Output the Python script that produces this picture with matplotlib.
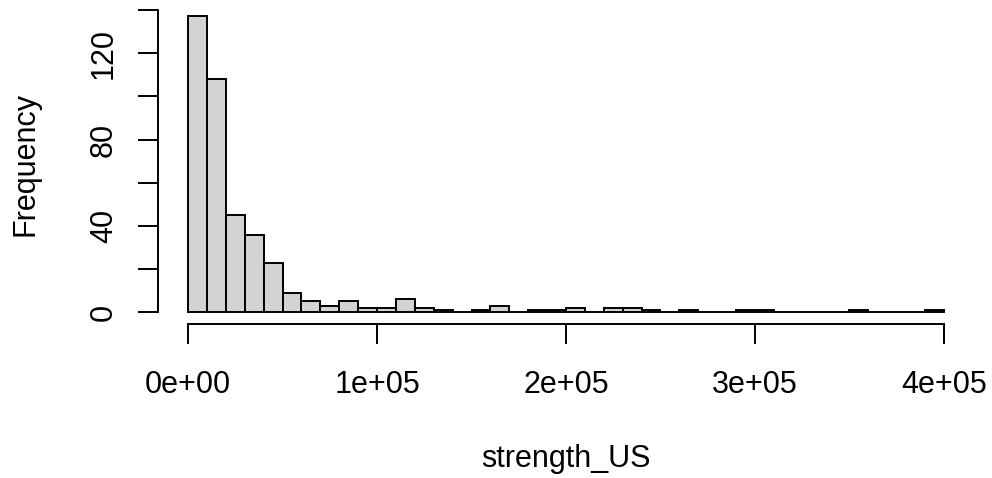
import matplotlib
matplotlib.use("Agg")
import matplotlib.pyplot as plt
import numpy as np

# Histogram of strength_US: bin width 10000 from 0 to 400000
bin_edges = np.arange(0, 400001, 10000)
counts = [137, 108, 45, 36, 23, 9, 5, 3, 5, 2,
          2, 6, 2, 1, 0, 1, 3, 0, 1, 1,
          2, 0, 2, 2, 1, 0, 1, 0, 0, 1,
          1, 0, 0, 0, 0, 1, 0, 0, 0, 1]
x_ticks = [0, 100000, 200000, 300000, 400000]
x_tick_labels = ["0e+00", "1e+05", "2e+05", "3e+05", "4e+05"]
y_ticks = [0, 20, 40, 60, 80, 100, 120, 140]
y_tick_labels = ["0", "", "40", "", "80", "", "120", ""]

plt.rcParams['font.family'] = ['Liberation Sans', 'DejaVu Sans']

W, H = 992, 478
fig = plt.figure(figsize=(W/100, H/100), dpi=100)
L, R, T, B = 157.8, 974.2, 4.65, 324.1
ax = fig.add_axes([L/W, 1-B/H, (R-L)/W, (B-T)/H])

ax.hist(bin_edges[:-1], bins=bin_edges, weights=counts,
        color='#d3d3d3', edgecolor='black', linewidth=1.4)

ax.set_xlim(-16000, 416000)
ax.set_ylim(-5.48, 142.48)

for s in ['top', 'right']:
    ax.spines[s].set_visible(False)
ax.spines['left'].set_bounds(0, 140)
ax.spines['bottom'].set_bounds(0, 400000)
for s in ['left', 'bottom']:
    ax.spines[s].set_linewidth(1.4)

FS = 22
tick_len_px = 20
ax.set_xticks(x_ticks)
ax.set_xticklabels(x_tick_labels, va='baseline')
ax.set_yticks(y_ticks)
ax.set_yticklabels(y_tick_labels, rotation=90, rotation_mode='anchor',
                   ha='center', va='baseline')
ax.tick_params(axis='both', length=tick_len_px*0.72, width=1.4,
               labelsize=FS, direction='out')
# x labels: baseline at y=393 px ; y labels: baseline at x=112 px
ax.tick_params(axis='x', pad=(393 - B - tick_len_px)*0.72)
ax.tick_params(axis='y', pad=(L - tick_len_px - 112)*0.72)

ax.set_xlabel("strength_US", fontsize=FS, va='baseline')
ax.xaxis.set_label_coords(0.5, -(467 - B)/(B - T))
ax.set_ylabel("Frequency", fontsize=FS, va='baseline', rotation_mode='anchor')
ax.yaxis.set_label_coords((33.5 - L)/(R - L), 0.5)

fig.savefig("out.png", dpi=100)
